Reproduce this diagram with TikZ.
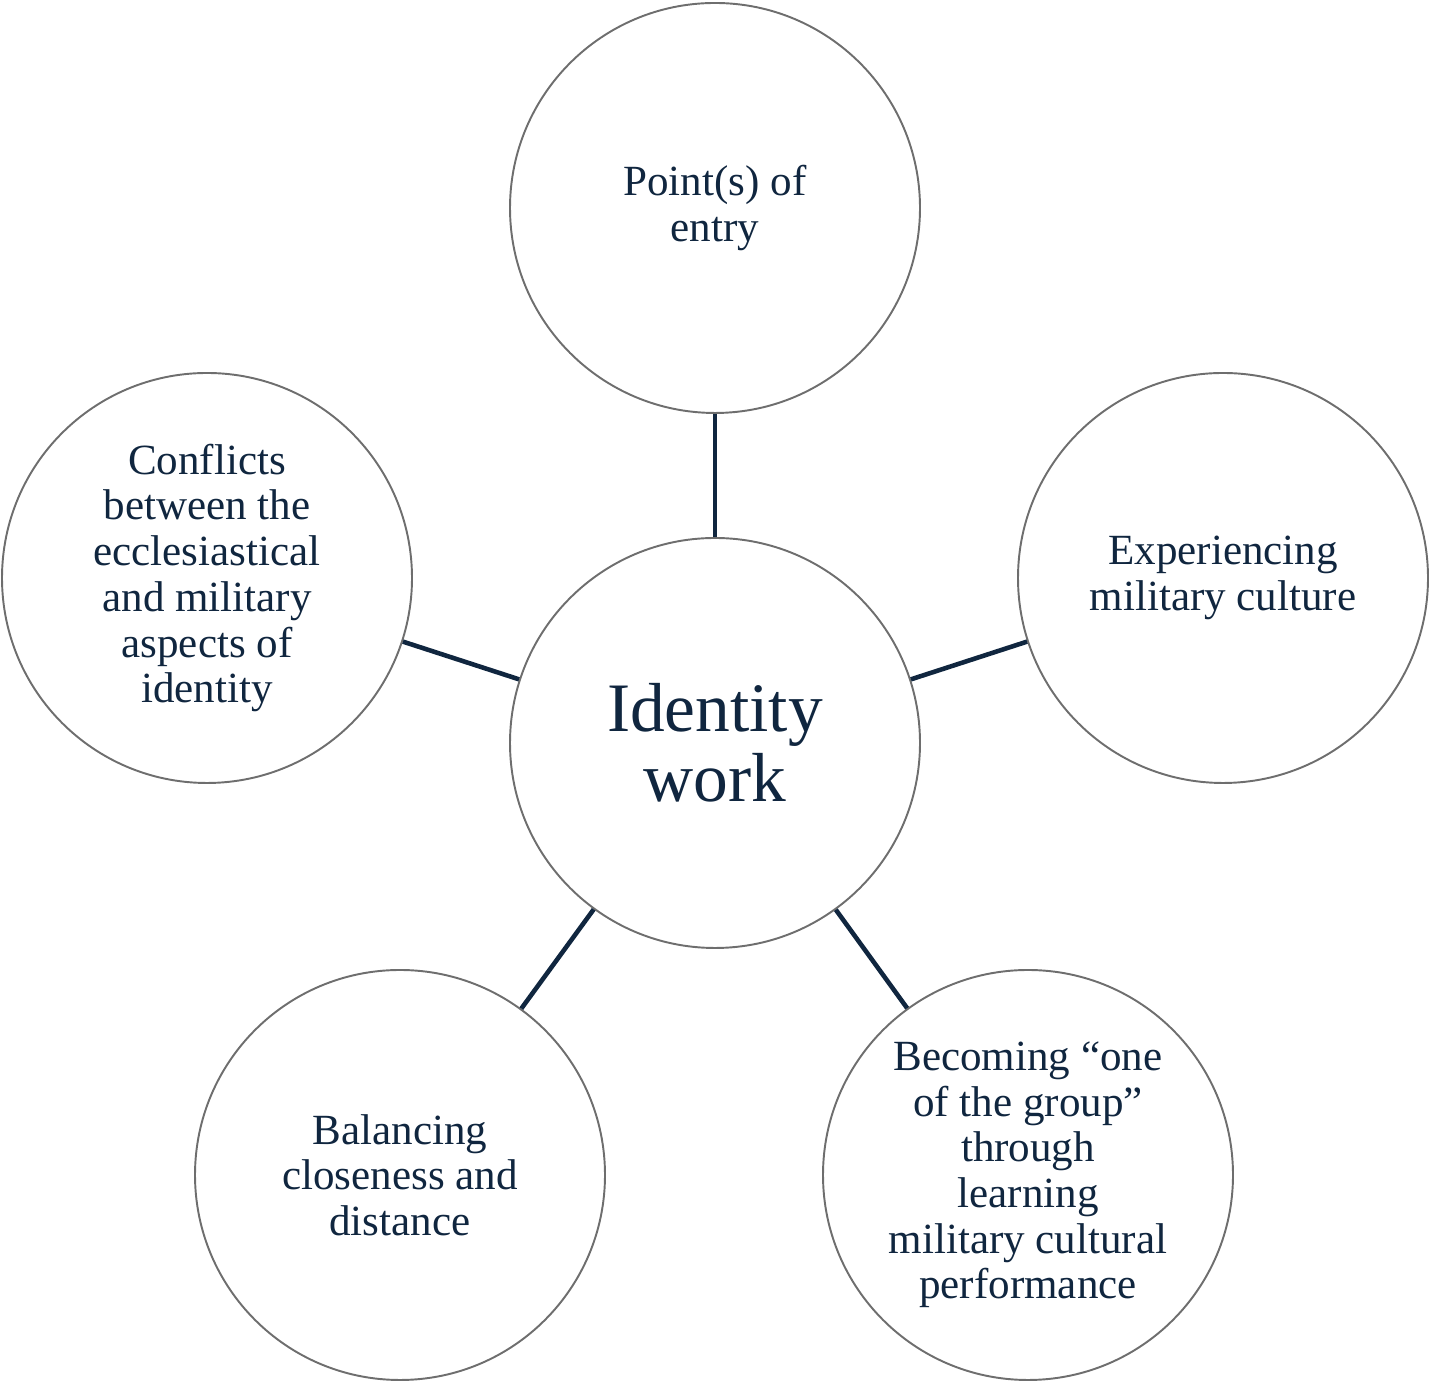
\documentclass[tikz,border=0pt]{standalone}
\usepackage{fontspec}
\setmainfont{Liberation Serif}
\usepackage{tikz}
\definecolor{navy}{HTML}{10263F}
\definecolor{rim}{HTML}{6E6E6E}
\tikzset{
    theme/.style={circle, draw=rim, line width=1.1pt, minimum size=8.2cm, inner sep=0pt, align=center, text=navy, font=\fontsize{24.5}{26}\selectfont},
    link/.style={draw=navy, line width=2.6pt}
}

\begin{document}
\begin{tikzpicture}
        \useasboundingbox (0,0) rectangle (28.66,27.66);

        \node[theme, font=\fontsize{39.5}{40}\selectfont] (I) at (14.30,12.80) {Identity\\work};
        \node[theme] (P) at (14.30,23.50) {Point(s) of\\entry};
        \node[theme] (E) at (24.46,16.10) {Experiencing\\military culture};
        \node[theme] (B) at (20.56,4.16) {Becoming ``one\\of the group''\\through\\learning\\military cultural\\performance};
        \node[theme] (C) at (8.00,4.16) {Balancing\\closeness and\\distance};
        \node[theme] (K) at (4.14,16.10) {Conflicts\\between the\\ecclesiastical\\and military\\aspects of\\identity};

        \draw[link] (I) -- (P);
        \draw[link] (I) -- (E);
        \draw[link] (I) -- (B);
        \draw[link] (I) -- (C);
        \draw[link] (I) -- (K);
    \end{tikzpicture}
\end{document}
